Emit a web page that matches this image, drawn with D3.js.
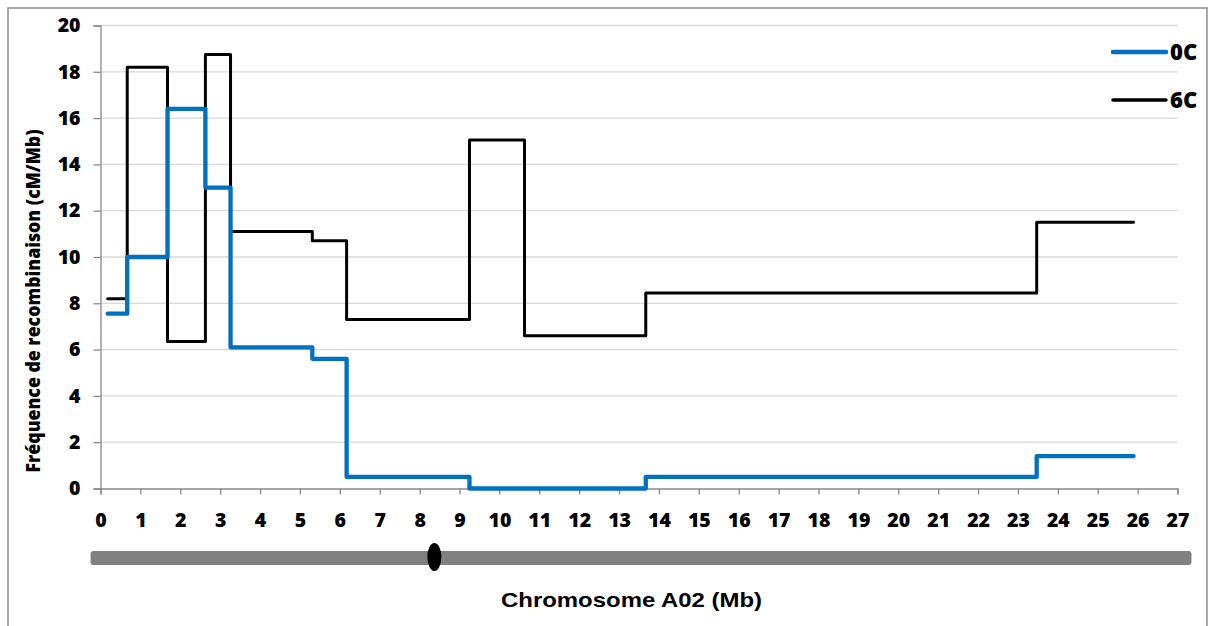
<!DOCTYPE html>
<html><head><meta charset="utf-8">
<script src="https://cdn.jsdelivr.net/npm/d3@7"></script>
<style>body{margin:0;background:#fff}svg{display:block}</style>
</head><body>
<svg id="c" width="1217" height="626"></svg>
<script>
// Data
const breakpoints = [0.18, 0.67, 1.68, 2.63, 3.26, 5.31, 6.17, 9.25, 10.63, 13.67, 23.47, 25.9];
const series0C = [7.55, 10.0, 16.4, 13.0, 6.1, 5.6, 0.5, 0.0, 0.0, 0.5, 1.4];
const series6C = [8.2, 18.2, 6.35, 18.75, 11.1, 10.7, 7.3, 15.05, 6.6, 8.45, 11.5];
const seriesNames = ["0C", "6C"];
const seriesColors = ["#0070C0", "#000000"];
const xTicks = d3.range(0, 28, 1);
const yTicks = d3.range(0, 21, 2);
const chromosome = {start: -0.25, end: 27.35, centromere: 8.37};
const xTitle = "Chromosome A02 (Mb)";
const yTitle = "Fréquence de recombinaison (cM/Mb)";

const svg = d3.select("#c");
const x = d3.scaleLinear().domain([0, 27]).range([100.5, 1177.5]);
const y = d3.scaleLinear().domain([0, 20]).range([488.5, 25.5]);
const axisGray = "#898989";
const font = "'Open Sans', Lato, sans-serif";

// outer frame
svg.append("rect").attr("x", 8).attr("y", 8).attr("width", 1199).attr("height", 640)
  .attr("fill", "none").attr("stroke", "#8c8c8c").attr("stroke-width", 1.5);

// gridlines
svg.append("g").selectAll("line").data(yTicks.filter(d => d > 0)).join("line")
  .attr("x1", x(0)).attr("x2", x(27)).attr("y1", d => y(d)).attr("y2", d => y(d))
  .attr("stroke", "#d9d9d9").attr("stroke-width", 1.3);

// y axis
const yAxis = svg.append("g").attr("transform", `translate(${x(0)},0)`)
  .call(d3.axisLeft(y).tickValues(yTicks).tickSize(7).tickPadding(13).tickFormat(d3.format("d")));
yAxis.select(".domain").attr("stroke", axisGray).attr("stroke-width", 1.3);
yAxis.selectAll(".tick line").attr("stroke", axisGray).attr("stroke-width", 1.3);
yAxis.selectAll("text").attr("font-family", font).attr("font-weight", 800)
  .attr("font-size", 19.5).attr("fill", "#000");

// x axis
const xAxis = svg.append("g").attr("transform", `translate(0,${y(0)})`)
  .call(d3.axisBottom(x).tickValues(xTicks).tickSize(6).tickPadding(0).tickFormat(d3.format("d")));
xAxis.select(".domain").attr("stroke", axisGray).attr("stroke-width", 1.3);
xAxis.selectAll(".tick line").attr("stroke", axisGray).attr("stroke-width", 1.3);
xAxis.selectAll("text").attr("font-family", font).attr("font-weight", 800)
  .attr("font-size", 19.5).attr("fill", "#000").attr("dy", null).attr("y", 38.5);

// lines
function pts(vals) {
  const p = vals.map((v, i) => [breakpoints[i], v]);
  p.push([breakpoints[breakpoints.length - 1], vals[vals.length - 1]]);
  return p;
}
const line = d3.line().x(d => x(d[0])).y(d => y(d[1])).curve(d3.curveStepAfter);
svg.append("path").attr("d", line(pts(series6C))).attr("fill", "none")
  .attr("stroke", seriesColors[1]).attr("stroke-width", 3).attr("stroke-linejoin", "round").attr("stroke-linecap", "round");
svg.append("path").attr("d", line(pts(series0C))).attr("fill", "none")
  .attr("stroke", seriesColors[0]).attr("stroke-width", 4.3).attr("stroke-linejoin", "round").attr("stroke-linecap", "round");

// legend
const legY = [52, 100];
const leg = svg.append("g");
seriesNames.forEach((n, i) => {
  leg.append("line").attr("x1", 1113).attr("x2", 1166).attr("y1", legY[i]).attr("y2", legY[i])
    .attr("stroke", seriesColors[i]).attr("stroke-width", i === 0 ? 4.5 : 3.5).attr("stroke-linecap", "round");
  leg.append("text").attr("x", 1170).attr("y", legY[i]).attr("dy", "0.36em")
    .attr("font-family", font).attr("font-weight", 800).attr("font-size", 22).text(n);
});

// y title
svg.append("text").attr("transform", `translate(40,301) rotate(-90)`)
  .attr("text-anchor", "middle").attr("font-family", font).attr("font-weight", 800)
  .attr("font-size", 20).attr("textLength", 343).attr("lengthAdjust", "spacingAndGlyphs").text(yTitle);

// chromosome bar
svg.append("rect").attr("x", x(chromosome.start)).attr("y", 551)
  .attr("width", x(chromosome.end) - x(chromosome.start)).attr("height", 14)
  .attr("rx", 3).attr("fill", "#808080");
svg.append("ellipse").attr("cx", x(chromosome.centromere)).attr("cy", 557)
  .attr("rx", 7).attr("ry", 14).attr("fill", "#000");

// x title
svg.append("text").attr("x", 631.5).attr("y", 607).attr("text-anchor", "middle")
  .attr("font-family", "'Liberation Sans', Arial, sans-serif").attr("font-weight", "bold")
  .attr("font-size", 21).attr("textLength", 261).attr("lengthAdjust", "spacingAndGlyphs").text(xTitle);
</script>
</body></html>
